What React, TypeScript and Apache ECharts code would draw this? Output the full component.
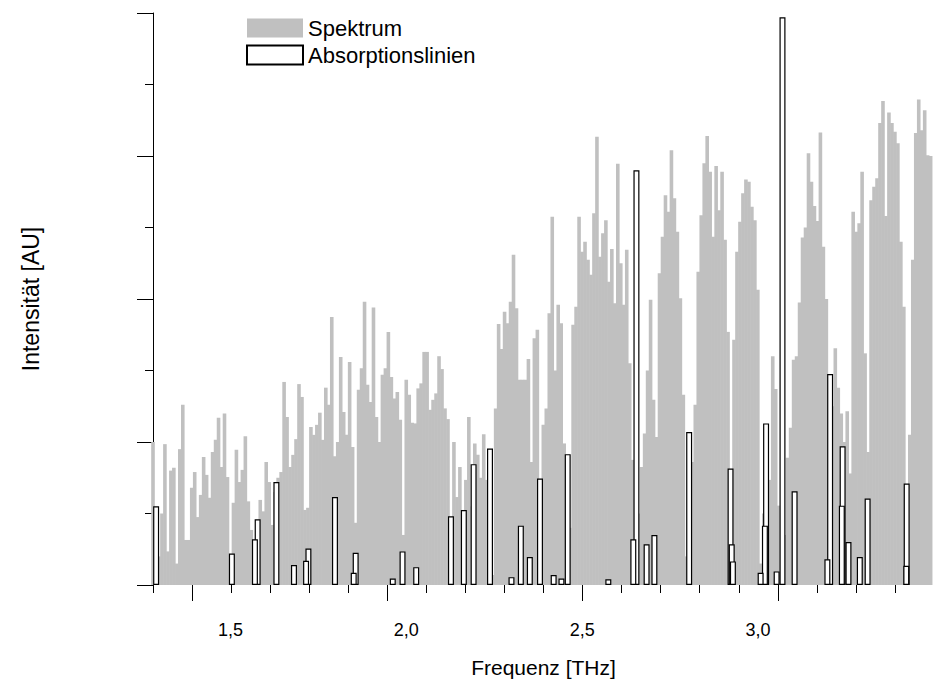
import React, { useEffect, useRef } from "react";
import * as echarts from "echarts";

// Spectrum: regularly sampled bars starting at 1.40 THz
const specStart = 1.4;
const specStep = 0.00763;
const spectrum = [
  2.0, 0.3, 0.4, 1.0, 1.97, 0.47, 1.6, 1.64, 0.3, 1.9,
  2.52, 0.63, 0.63, 1.36, 1.58, 0.95, 1.26, 1.79, 1.54, 1.22,
  1.86, 2.03, 2.34, 1.65, 2.4, 1.51, 0.25, 1.15, 1.89, 1.44,
  1.61, 2.08, 1.17, 0.77, 0.63, 0.7, 1.19, 1.03, 1.72, 1.44,
  0.84, 1.3, 1.5, 1.58, 2.84, 2.35, 1.65, 1.82, 2.04, 2.81,
  2.63, 1.05, 1.08, 2.21, 2.1, 2.24, 2.41, 2.03, 2.76, 2.52,
  3.75, 1.8, 2.0, 3.19, 2.42, 2.1, 3.12, 1.93, 0.87, 2.73,
  3.03, 3.96, 2.8, 2.56, 3.88, 2.35, 2.0, 2.94, 3.03, 3.54,
  2.91, 2.61, 2.7, 2.31, 0.7, 2.87, 2.66, 2.27, 2.26, 2.75,
  2.82, 3.26, 3.26, 2.45, 2.59, 2.68, 3.2, 3.02, 2.47, 2.32,
  0.17, 2.0, 1.23, 1.65, 0.4, 1.47, 2.35, 1.1, 1.98, 1.82,
  1.5, 2.11, 1.47, 0.68, 0.14, 2.47, 3.65, 3.3, 3.82, 3.66,
  3.96, 4.62, 3.87, 2.87, 2.87, 2.87, 3.16, 1.72, 3.45, 3.57,
  0.96, 2.24, 2.47, 3.8, 5.15, 3.0, 3.92, 3.66, 1.98, 0.8,
  0.8, 3.64, 3.89, 5.15, 4.66, 4.8, 4.55, 4.34, 5.2, 6.27,
  4.59, 4.92, 5.1, 4.24, 4.7, 3.94, 5.89, 4.5, 3.92, 4.69,
  3.1, 1.75, 1.2, 1.0, 1.65, 2.12, 3.0, 3.99, 2.59, 2.07,
  4.36, 4.87, 5.45, 5.22, 6.08, 5.41, 4.94, 4.01, 2.66, 0.4,
  1.44, 1.72, 2.52, 4.38, 5.17, 5.9, 6.28, 5.78, 4.87, 5.86,
  5.24, 5.78, 4.83, 3.54, 1.0, 3.43, 4.66, 5.08, 5.48, 5.67,
  5.64, 5.29, 5.1, 4.13, 0.3, 1.0, 1.2, 1.47, 3.2, 2.74,
  1.11, 1.0, 0.7, 1.78, 2.2, 3.15, 3.2, 3.95, 4.86, 5.0,
  6.04, 5.64, 5.3, 5.09, 6.33, 4.73, 4.0, 2.5, 2.5, 3.31,
  2.76, 2.4, 2.0, 2.43, 1.56, 5.22, 4.94, 5.06, 5.78, 3.24,
  1.86, 5.38, 5.57, 5.69, 6.46, 6.77, 5.16, 6.61, 6.46, 6.34,
  6.18, 4.8, 3.89, 0.38, 2.1, 4.55, 6.32, 6.79, 6.36, 6.64,
  6.01, 6.0,
];

// Absorption lines (frequency in THz, intensity)
const lineFreq = [
  1.408, 1.602, 1.661, 1.668, 1.716, 1.761, 1.792, 1.798, 1.866, 1.914,
  1.919, 2.014, 2.039, 2.074, 2.163, 2.196, 2.221, 2.263, 2.318, 2.342,
  2.365, 2.391, 2.426, 2.446, 2.462, 2.566, 2.63, 2.638, 2.664, 2.684,
  2.773, 2.879, 2.882, 2.885, 2.956, 2.967, 2.97, 2.997, 3.012, 3.043,
  3.127, 3.134, 3.164, 3.166, 3.181, 3.21, 3.23, 3.329, 3.33,
];
const lineIntensity = [
  1.1, 0.44, 0.64, 0.92, 1.44, 0.28, 0.34, 0.51, 1.23, 0.17,
  0.45, 0.09, 0.47, 0.25, 0.96, 1.05, 1.69, 1.91, 0.11, 0.83,
  0.39, 1.49, 0.14, 0.09, 1.83, 0.08, 0.64, 5.8, 0.57, 0.7,
  2.14, 1.63, 0.57, 0.33, 0.17, 0.83, 2.26, 0.19, 7.94, 1.31,
  0.36, 2.95, 1.11, 1.94, 0.6, 0.39, 1.21, 0.27, 1.42,
];

const xMajorTicks = [1.5, 2.0, 2.5, 3.0];
const xMinorTicks = [1.4, 1.6, 1.7, 1.8, 1.9, 2.1, 2.2, 2.3, 2.4, 2.6, 2.7, 2.8, 2.9, 3.1, 3.2, 3.3, 3.4];
const xTickLabels = [1.5, 2.0, 2.5, 3.0];
const yMajorTicks = [0, 2, 4, 6, 8];
const yMinorTicks = [1, 3, 5, 7];

const FONT = "'Liberation Sans', Arial, sans-serif";

export default function App() {
  const ref = useRef<HTMLDivElement>(null);
  useEffect(() => {
    document.body.style.margin = "0";
    if (!ref.current) return;
    const chart = echarts.init(ref.current, undefined, { renderer: "svg" });
    const specData = spectrum.map((v, i) => [specStart + i * specStep, v]);
    const lineData = lineFreq
      .map((f, i) => [f, lineIntensity[i]])
      .sort((a, b) => b[1] - a[1]);
    chart.setOption({
      animation: false,
      backgroundColor: "#fff",
      textStyle: { fontFamily: FONT },
      grid: { left: 153, top: 13, width: 786, height: 572 },
      legend: {
        orient: "vertical",
        left: 241,
        top: 12,
        itemWidth: 56,
        itemHeight: 19,
        itemGap: 5,
        selectedMode: false,
        textStyle: { fontSize: 22, color: "#000", fontFamily: FONT },
        data: [
          { name: "Spektrum", icon: "rect" },
          { name: "Absorptionslinien", icon: "rect" },
        ],
      },
      xAxis: [
        {
          type: "value",
          min: 1.4,
          max: 3.4,
          position: "bottom",
          axisLine: { show: false },
          splitLine: { show: false },
          axisTick: { show: true, customValues: xMajorTicks, length: 16, lineStyle: { color: "#000" } },
          axisLabel: { show: false },
          name: "Frequenz [THz]",
          nameLocation: "middle",
          nameGap: 72,
          nameTextStyle: { fontSize: 21, color: "#000", fontFamily: FONT },
        },
        {
          type: "value",
          min: 1.4,
          max: 3.4,
          position: "bottom",
          axisLine: { show: false },
          splitLine: { show: false },
          axisTick: { show: true, customValues: xMinorTicks, length: 8, lineStyle: { color: "#000" } },
          axisLabel: { show: false },
        },
        {
          type: "value",
          min: 1.28,
          max: 3.5,
          position: "bottom",
          axisLine: { show: false },
          splitLine: { show: false },
          axisTick: { show: false },
          axisLabel: {
            customValues: xTickLabels,
            formatter: (v: number) => v.toFixed(1).replace(".", ","),
            fontSize: 18,
            color: "#000",
            margin: 36,
            fontFamily: FONT,
          },
        },
      ],
      yAxis: [
        {
          type: "value",
          min: 0,
          max: 8,
          position: "left",
          axisLine: { show: true, lineStyle: { color: "#000", width: 1 } },
          splitLine: { show: false },
          axisTick: { show: true, customValues: yMajorTicks, length: 16, lineStyle: { color: "#000" } },
          axisLabel: { show: false },
          name: "Intensität [AU]",
          nameLocation: "middle",
          nameGap: 111,
          nameTextStyle: { fontSize: 23, color: "#000", fontFamily: FONT },
        },
        {
          type: "value",
          min: 0,
          max: 8,
          position: "left",
          axisLine: { show: false },
          splitLine: { show: false },
          axisTick: { show: true, customValues: yMinorTicks, length: 8, lineStyle: { color: "#000" } },
          axisLabel: { show: false },
        },
      ],
      series: [
        {
          name: "Spektrum",
          type: "bar",
          xAxisIndex: 0,
          yAxisIndex: 0,
          barWidth: 3.6,
          itemStyle: { color: "#c0c0c0" },
          data: specData,
        },
        {
          name: "Absorptionslinien",
          type: "bar",
          xAxisIndex: 1,
          yAxisIndex: 0,
          barWidth: 6,
          itemStyle: { color: "#ffffff", borderColor: "#000", borderWidth: 1.2 },
          data: lineData,
        },
      ],
    });
    return () => chart.dispose();
  }, []);
  return <div ref={ref} style={{ width: 934, height: 690 }} />;
}
